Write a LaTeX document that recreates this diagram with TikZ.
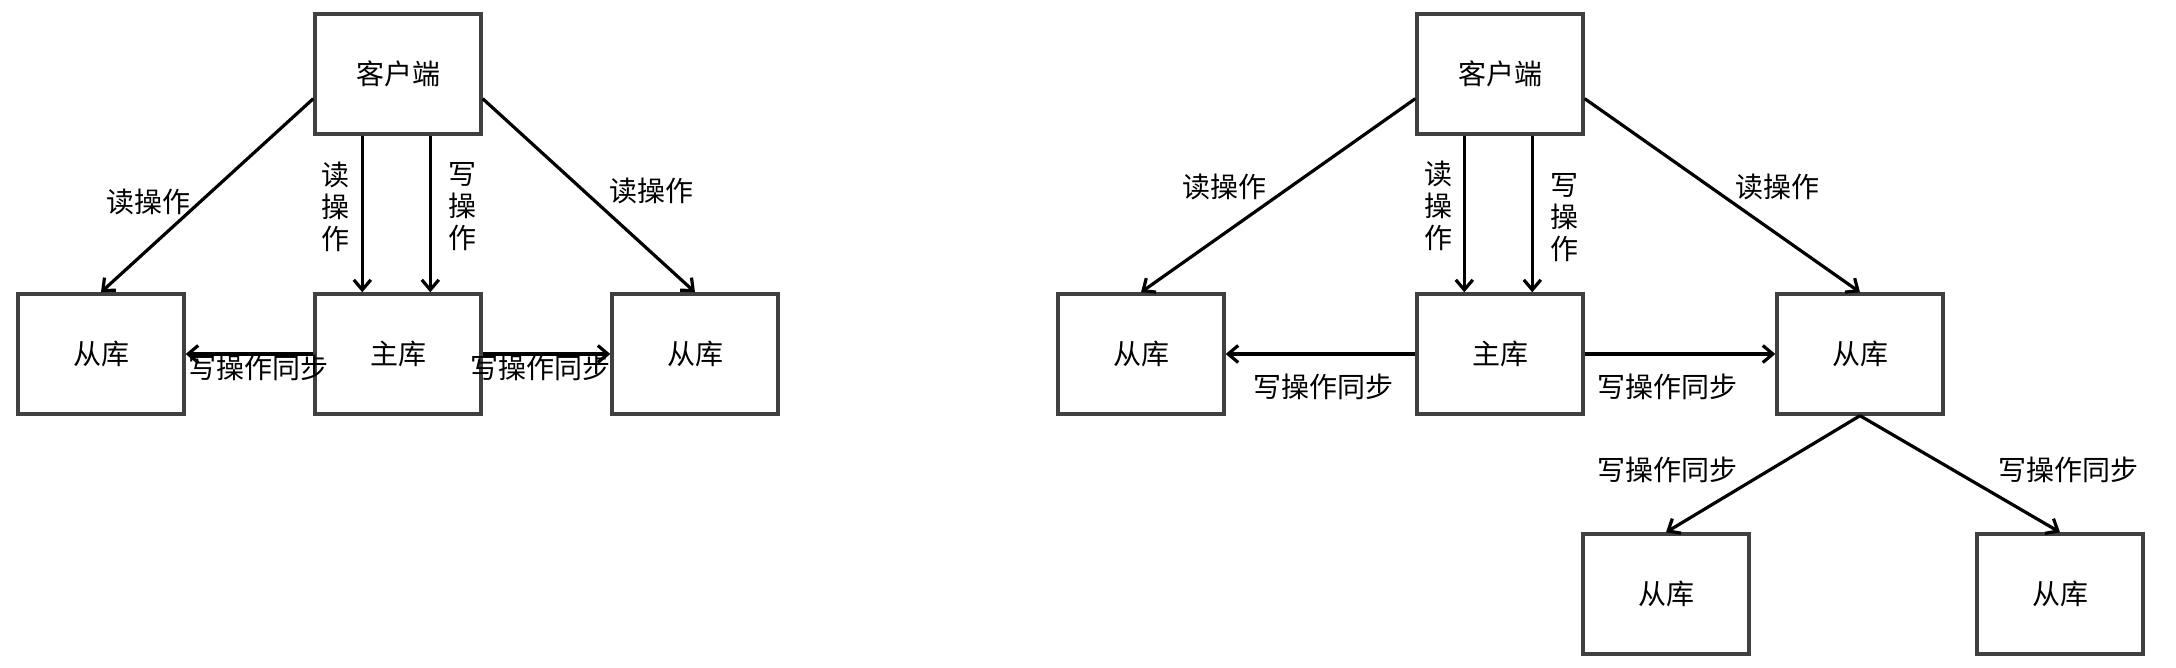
\documentclass[tikz,border=0pt]{standalone}
\usepackage{fontspec}
\newfontfamily\cjk{Noto Sans CJK SC}
\usetikzlibrary{arrows.meta,calc}
\begin{document}
\begin{tikzpicture}[x=0.5pt,y=-0.5pt,
  box/.style={draw=black!75, line width=1.7pt, minimum width=83pt, minimum height=60pt,
    inner sep=0pt, fill=white, font=\cjk\fontsize{14}{16}\selectfont},
  lbl/.style={inner sep=0pt, font=\cjk\fontsize{14}{16}\selectfont, align=center},
  arr/.style={line width=1.6pt, -{Straight Barb[length=5pt,width=8.5pt]}},
]
\useasboundingbox (0,0) rectangle (2176,668);

% ---------- left diagram ----------
\node[box] (C1) at (398,74)  {客户端};
\node[box] (M1) at (398,354) {主库};
\node[box] (L1) at (101,354) {从库};
\node[box] (R1) at (695,354) {从库};

\draw[arr] ($(C1.north west)!0.7!(C1.south west)$) -- (L1.north);
\draw[arr] ($(C1.north east)!0.7!(C1.south east)$) -- (R1.north);
\draw[arr] ($(C1.south west)+(49,0)$) -- ($(M1.north west)+(49,0)$);
\draw[arr] ($(C1.south west)+(117,0)$) -- ($(M1.north west)+(117,0)$);
\draw[arr] (M1.west) -- (L1.east);
\draw[arr] (M1.east) -- (R1.west);

\node[lbl] (l1a) at (148,202) {读操作};
\node[lbl] (l1b) at (651,191) {读操作};
\node[lbl] (l1c) at (335,207) {读\\操\\作};
\node[lbl] (l1d) at (462,207) {写\\操\\作};
\node[lbl] (l1e) at (258,368) {写操作同步};
\node[lbl] (l1f) at (540,368) {写操作同步};

% ---------- right diagram ----------
\node[box] (C2) at (1500,74)  {客户端};
\node[box] (M2) at (1500,354) {主库};
\node[box] (L2) at (1141,354) {从库};
\node[box] (R2) at (1860,354) {从库};
\node[box] (B1) at (1666,594) {从库};
\node[box] (B2) at (2060,594) {从库};

\draw[arr] ($(C2.north west)!0.7!(C2.south west)$) -- (L2.north);
\draw[arr] ($(C2.north east)!0.7!(C2.south east)$) -- (R2.north);
\draw[arr] ($(C2.south west)+(49,0)$) -- ($(M2.north west)+(49,0)$);
\draw[arr] ($(C2.south west)+(117,0)$) -- ($(M2.north west)+(117,0)$);
\draw[arr] (M2.west) -- (L2.east);
\draw[arr] (M2.east) -- (R2.west);
\draw[arr] (R2.south) -- (B1.north);
\draw[arr] (R2.south) -- (B2.north);

\node[lbl] (l2a) at (1224,187) {读操作};
\node[lbl] (l2b) at (1777,187) {读操作};
\node[lbl] (l2c) at (1438,206) {读\\操\\作};
\node[lbl] (l2d) at (1564,218) {写\\操\\作};
\node[lbl] (l2e) at (1323,387) {写操作同步};
\node[lbl] (l2f) at (1667,387) {写操作同步};
\node[lbl] (l2g) at (1667,470) {写操作同步};
\node[lbl] (l2h) at (2068,470) {写操作同步};
\end{tikzpicture}
\end{document}
